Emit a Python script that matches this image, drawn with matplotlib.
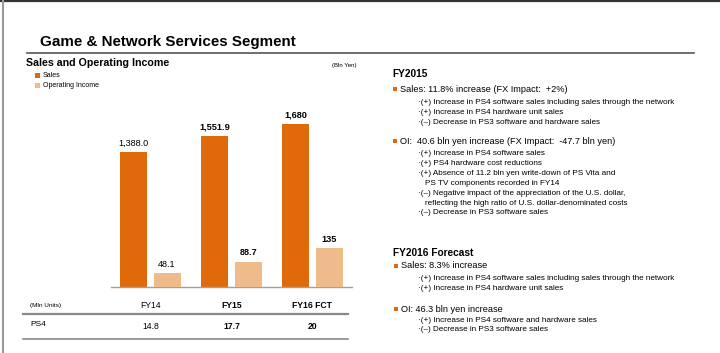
import matplotlib
matplotlib.use("Agg")
import matplotlib.pyplot as plt
import matplotlib.transforms as mtransforms
from matplotlib.patches import Rectangle
from matplotlib.lines import Line2D

# ---------------- data ----------------
categories = ["FY14", "FY15", "FY16 FCT"]
sales = [1388.0, 1551.9, 1680]
sales_labels = ["1,388.0", "1,551.9", "1,680"]
op_income = [48.1, 88.7, 135]
op_labels = ["48.1", "88.7", "135"]
ps4_units = ["14.8", "17.7", "20"]
bold_flags = [False, True, True]

title = "Game & Network Services Segment"
subtitle = "Sales and Operating Income"
unit_note = "(Bln Yen)"
legend_labels = ["Sales", "Operating Income"]

fy2015_head = "FY2015"
fy2015_sales = "Sales: 11.8% increase (FX Impact:  +2%)"
fy2015_sales_items = [
    "\u00b7(+) Increase in PS4 software sales including sales through the network",
    "\u00b7(+) Increase in PS4 hardware unit sales",
    "\u00b7(\u2013) Decrease in PS3 software and hardware sales",
]
fy2015_oi = "OI:  40.6 bln yen increase (FX Impact:  -47.7 bln yen)"
fy2015_oi_items = [
    ("\u00b7(+) Increase in PS4 software sales", False),
    ("\u00b7(+) PS4 hardware cost reductions", False),
    ("\u00b7(+) Absence of 11.2 bln yen write-down of PS Vita and", False),
    ("PS TV components recorded in FY14", True),
    ("\u00b7(\u2013) Negative impact of the appreciation of the U.S. dollar,", False),
    ("reflecting the high ratio of U.S. dollar-denominated costs", True),
    ("\u00b7(\u2013) Decrease in PS3 software sales", False),
]
fy2016_head = "FY2016 Forecast"
fy2016_sales = "Sales: 8.3% increase"
fy2016_sales_items = [
    "\u00b7(+) Increase in PS4 software sales including sales through the network",
    "\u00b7(+) Increase in PS4 hardware unit sales",
]
fy2016_oi = "OI: 46.3 bln yen increase"
fy2016_oi_items = [
    "\u00b7(+) Increase in PS4 software and hardware sales",
    "\u00b7(\u2013) Decrease in PS3 software sales",
]

# ---------------- style ----------------
SALES_C = "#E06A0A"
OI_C = "#F0BB8A"
GRAY = "#8C8C8C"
FONT = "Liberation Sans"
plt.rcParams["font.family"] = [FONT, "DejaVu Sans"]

W, H = 720, 353
fig = plt.figure(figsize=(W / 100, H / 100), dpi=100)
fig.patch.set_facecolor("white")


def fx(x):
    return x / W


def fy(y):
    return 1 - y / H


def txt(x, y, s, size, weight="normal", ha="left", va="center", color="black"):
    fig.text(fx(x), fy(y), s, fontsize=size, fontweight=weight, ha=ha, va=va, color=color)


def hline(x0, x1, y, color=GRAY, lw=1.0):
    fig.add_artist(Line2D([fx(x0), fx(x1)], [fy(y), fy(y)], color=color, lw=lw,
                          transform=fig.transFigure))


def square(x, y, s, color):
    fig.add_artist(Rectangle((fx(x), fy(y + s)), s / W, s / H, color=color,
                             transform=fig.transFigure, lw=0))


# frame lines
hline(0, W, 0.8, color="#333333", lw=1.6)
fig.add_artist(Line2D([fx(2.5), fx(2.5)], [0, 1], color="#999999", lw=1.5,
                      transform=fig.transFigure))

# title
txt(40.5, 42, title, 10.9, weight="bold")
hline(27, 694, 52.5, color="#555555", lw=1.2)
txt(26, 63, subtitle, 7.7, weight="bold")
txt(357, 65, unit_note, 4.3, ha="right")

# legend
square(35, 73, 5, SALES_C)
txt(43, 75.5, legend_labels[0], 5.0)
square(35, 83, 5, OI_C)
txt(43, 85.5, legend_labels[1], 5.0)

# ---------------- bar chart ----------------
x0, x1 = 111, 352
ybase, ytop = 287, 100
ax = fig.add_axes([fx(x0), fy(ybase), (x1 - x0) / W, (ybase - ytop) / H])
ax2 = ax.twinx()
pos = list(range(len(categories)))
bw = 0.335
off = 0.205
b1 = ax.bar([p - off for p in pos], sales, width=bw, color=SALES_C)
b2 = ax2.bar([p + off for p in pos], op_income, width=bw, color=OI_C)
ax.set_xlim(-0.488, 2.488)
ax.set_ylim(0, (ybase - ytop) / 0.0973)
ax2.set_ylim(0, (ybase - ytop) / 0.287)
for a in (ax, ax2):
    a.set_facecolor("none")
    for sp in a.spines.values():
        sp.set_visible(False)
    a.set_xticks([])
    a.set_yticks([])
ax.spines["bottom"].set_visible(True)
ax.spines["bottom"].set_color("#A0A0A0")
ax.spines["bottom"].set_linewidth(1.0)

t1 = ax.bar_label(b1, labels=sales_labels, padding=3, fontsize=6.6)
t2 = ax2.bar_label(b2, labels=op_labels, padding=3, fontsize=6.6)
for t, b in zip(t1, bold_flags):
    t.set_fontweight("bold" if b else "normal")
for t, b in zip(t2, bold_flags):
    t.set_fontweight("bold" if b else "normal")

# table below
trans = mtransforms.blended_transform_factory(ax.transData, fig.transFigure)
txt(30, 306, "(Mln Units)", 4.6)
txt(30, 325, "PS4", 6.0)
for p, c, u, b in zip(pos, categories, ps4_units, bold_flags):
    w = "bold" if b else "normal"
    ax.text(p, fy(306), c, transform=trans, fontsize=6.2, fontweight=w,
            ha="center", va="center")
    ax.text(p, fy(326.5), u, transform=trans, fontsize=6.2, fontweight=w,
            ha="center", va="center")
hline(23, 348, 313.5, color="#8A8A8A", lw=1.6)
hline(23, 348, 338.5, color="#8A8A8A", lw=1.2)

# ---------------- right text ----------------
HS, MS, SS = 7.3, 6.6, 5.9
txt(392, 74, fy2015_head, HS, weight="bold")
square(393, 87, 3.8, SALES_C)
txt(400.5, 89, fy2015_sales, MS)
y = 103
for s in fy2015_sales_items:
    txt(418, y, s, SS)
    y += 9.6
square(393, 139, 3.8, SALES_C)
txt(400.5, 141, fy2015_oi, MS)
y = 154
for s, cont in fy2015_oi_items:
    txt(425 if cont else 418, y, s, SS)
    y += 9.8

txt(393, 253, fy2016_head, HS, weight="bold")
square(394, 264, 3.8, SALES_C)
txt(401, 266, fy2016_sales, MS)
y = 278.5
for s in fy2016_sales_items:
    txt(418, y, s, SS)
    y += 10.5
square(394, 307, 3.8, SALES_C)
txt(401, 309, fy2016_oi, MS)
y = 320
for s in fy2016_oi_items:
    txt(418, y, s, SS)
    y += 9.7

fig.savefig("out.png", dpi=100, facecolor="white")
